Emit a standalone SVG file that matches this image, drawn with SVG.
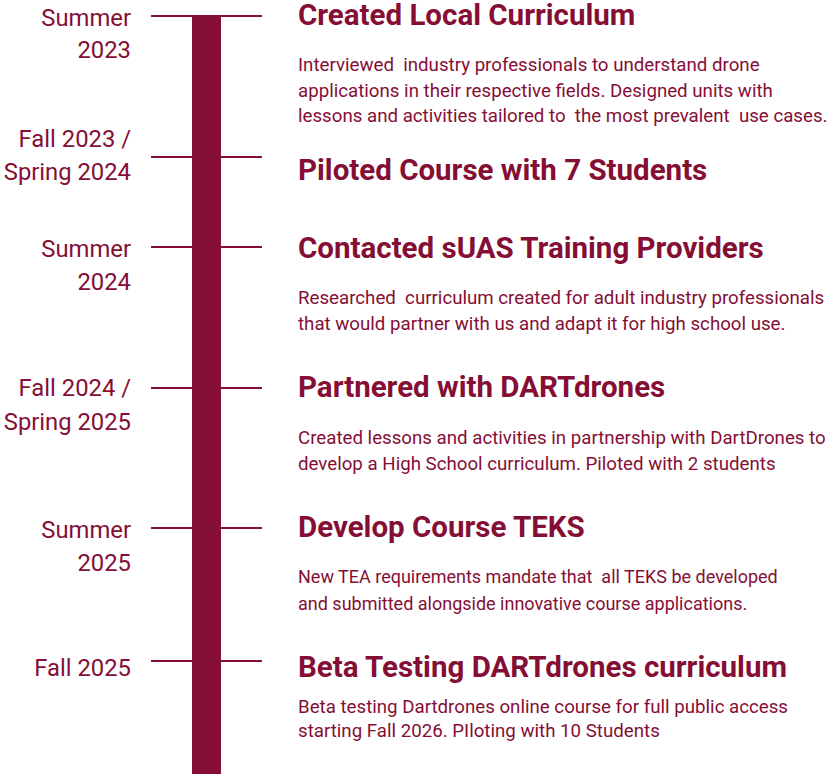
<svg xmlns="http://www.w3.org/2000/svg" width="827" height="774" viewBox="0 0 827 774">
<style>
text { font-family: Roboto, "Liberation Sans", sans-serif; fill: #850E35; white-space: pre; }
.date { font-size: 23.8px; text-anchor: end; }
.title { font-size: 29.5px; font-weight: bold; }
.body { font-size: 18.7px; }
.body2 { font-size: 18px; }
.tick { stroke: #850E35; stroke-width: 2; }
</style>
<rect width="827" height="774" fill="#ffffff"/>
<g id="connectors">
<rect id="bar" x="192" y="15" width="29" height="759" fill="#850E35"/>
<line class="tick" x1="151" y1="16" x2="262" y2="16"/>
<line class="tick" x1="151" y1="157" x2="262" y2="157"/>
<line class="tick" x1="151" y1="247" x2="262" y2="247"/>
<line class="tick" x1="151" y1="388" x2="262" y2="388"/>
<line class="tick" x1="151" y1="528" x2="262" y2="528"/>
<line class="tick" x1="151" y1="661" x2="262" y2="661"/>
</g>
<g id="m1">
<text class="date" x="131" y="26">Summer</text>
<text class="date" x="131" y="58">2023</text>
<text class="title" x="298" y="25">Created Local Curriculum</text>
<text class="body" x="298" y="71">Interviewed  industry professionals to understand drone</text>
<text class="body" x="298" y="96.5">applications in their respective fields. Designed units with</text>
<text class="body" x="298" y="122">lessons and activities tailored to  the most prevalent  use cases.</text>
</g>
<g id="m2">
<text class="date" x="131" y="147">Fall 2023 /</text>
<text class="date" x="131" y="180">Spring 2024</text>
<text class="title" x="298" y="180">Piloted Course with 7 Students</text>
</g>
<g id="m3">
<text class="date" x="131" y="257">Summer</text>
<text class="date" x="131" y="290">2024</text>
<text class="title" x="298" y="258">Contacted sUAS Training Providers</text>
<text class="body" x="298" y="304">Researched  curriculum created for adult industry professionals</text>
<text class="body" x="298" y="330">that would partner with us and adapt it for high school use.</text>
</g>
<g id="m4">
<text class="date" x="131" y="396">Fall 2024 /</text>
<text class="date" x="131" y="430">Spring 2025</text>
<text class="title" x="298" y="397">Partnered with DARTdrones</text>
<text class="body" x="298" y="444">Created lessons and activities in partnership with DartDrones to</text>
<text class="body" x="298" y="470">develop a High School curriculum. Piloted with 2 students</text>
</g>
<g id="m5">
<text class="date" x="131" y="538">Summer</text>
<text class="date" x="131" y="571">2025</text>
<text class="title" x="298" y="537">Develop Course TEKS</text>
<text class="body body2" x="298" y="583">New TEA requirements mandate that  all TEKS be developed</text>
<text class="body body2" x="298" y="610">and submitted alongside innovative course applications.</text>
</g>
<g id="m6">
<text class="date" x="131" y="676">Fall 2025</text>
<text class="title" x="298" y="677">Beta Testing DARTdrones curriculum</text>
<text class="body" x="298" y="713">Beta testing Dartdrones online course for full public access</text>
<text class="body" x="298" y="737">starting Fall 2026. PIloting with 10 Students</text>
</g>
</svg>
